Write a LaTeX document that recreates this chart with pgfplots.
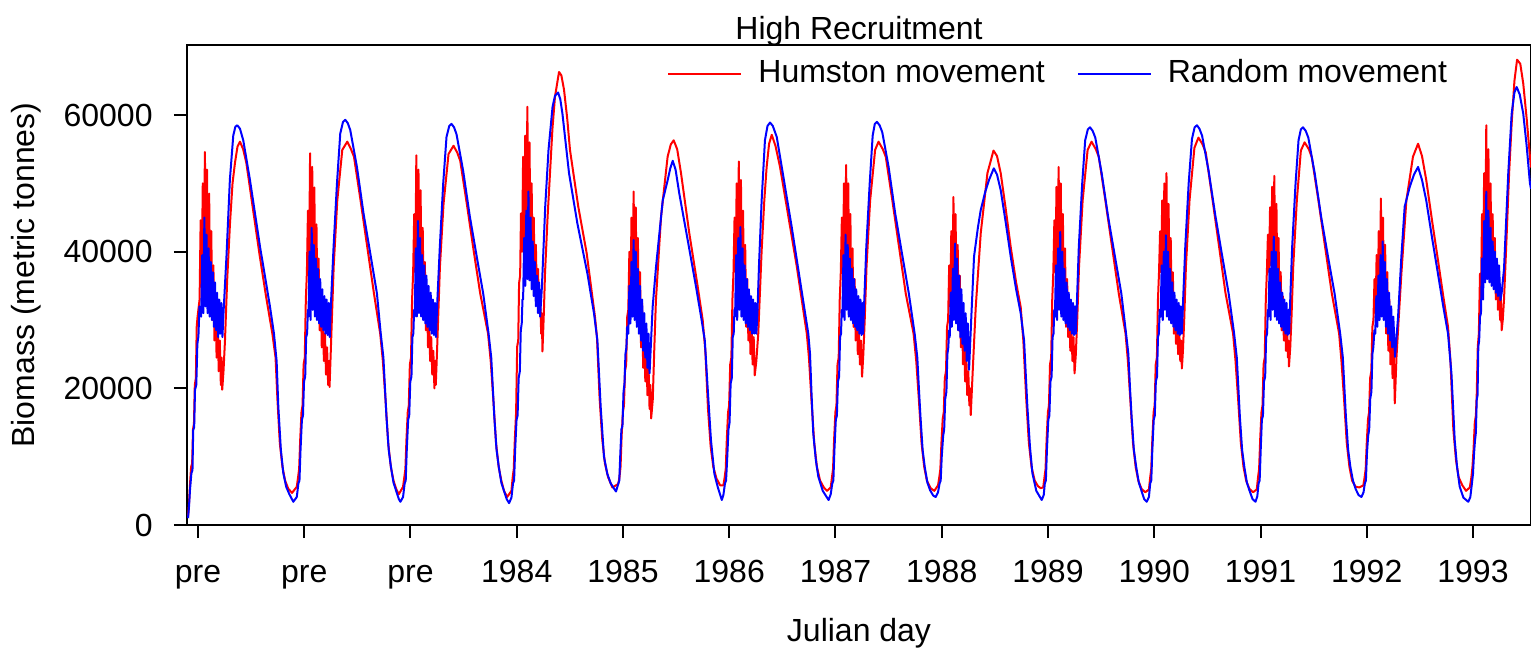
\documentclass[border=0pt]{standalone}
\usepackage{fontspec}
\setmainfont{Liberation Sans}
\usepackage{pgfplots}
\pgfplotsset{compat=1.18}
\newcommand{\fs}{\fontsize{16}{19}\selectfont}
\begin{document}
\fs
\begin{tikzpicture}
\begin{axis}[
 name=ax,
 scale only axis, width=672pt, height=240pt,
 xmin=-0.1035, xmax=12.546, ymin=0, ymax=70250,
 axis line style={line width=1pt},
 every tick/.style={black, line width=1pt},
 tick align=outside, major tick length=6.5pt,
 tick pos=left,
 scaled y ticks=false, scaled x ticks=false,
 xtick={0,1,2,3,4,5,6,7,8,9,10,11,12},
 xticklabels={pre,pre,pre,1984,1985,1986,1987,1988,1989,1990,1991,1992,1993},
 ytick={0,20000,40000,60000},
 yticklabels={0,20000,40000,60000},
 xticklabel style={anchor=base, yshift=-22pt, inner sep=0pt, font=\fs},
 yticklabel style={anchor=east, xshift=-10.5pt, inner sep=0pt, font=\fs},
 legend columns=2,
 legend style={draw=none, fill=none, inner sep=0pt, outer sep=0pt, font=\fs,
   at={(0.9375,0.9400)}, anchor=east,
   nodes={inner sep=0pt},
   /tikz/every odd column/.append style={column sep=8pt},
   /tikz/every even column/.append style={column sep=16pt}},
 legend image code/.code={\draw[#1] (0pt,0pt) -- (36.5pt,0pt);},
]
\addplot[red, line width=1pt, line join=round] table {
x y
-0.094 1200
-0.085 3000
-0.075 6000
-0.065 8500
-0.055 9000
-0.047 14000
-0.038 14800
-0.030 20500
-0.020 21500
-0.012 29000
-0.004 30500
0.015 33000
0.025 44600
0.035 36000
0.045 50000
0.055 37500
0.065 54600
0.075 37000
0.085 52000
0.095 34500
0.105 48500
0.115 32500
0.125 43000
0.135 30000
0.145 38000
0.155 27000
0.165 33500
0.175 24500
0.185 30000
0.195 22500
0.205 27000
0.215 20500
0.222 24500
0.228 19800
0.240 22500
0.254 27000
0.275 36000
0.301 44100
0.325 50000
0.348 53000
0.372 55400
0.395 56100
0.425 55000
0.455 53000
0.515 46500
0.580 39500
0.640 33500
0.700 28000
0.730 24500
0.748 18300
0.770 12000
0.795 8500
0.820 6500
0.850 5300
0.885 4700
0.930 5600
0.942 7000
0.952 8200
0.962 12500
0.974 16500
0.984 17500
0.994 23500
1.005 24500
1.015 33000
1.025 37000
1.035 46000
1.045 37000
1.055 54400
1.065 38000
1.075 52400
1.085 35000
1.095 49400
1.105 33500
1.115 44000
1.125 31000
1.135 39000
1.145 28500
1.155 34500
1.165 26000
1.175 30500
1.185 24000
1.195 28000
1.205 22000
1.215 26000
1.225 20500
1.232 24000
1.238 20200
1.250 25500
1.262 31000
1.277 37800
1.311 47500
1.358 54900
1.405 56100
1.440 55000
1.468 53900
1.530 47500
1.593 40700
1.656 33900
1.715 28000
1.740 24000
1.765 18300
1.790 12000
1.815 8500
1.840 6500
1.865 5300
1.890 4500
1.930 5600
1.942 7000
1.952 8200
1.962 12500
1.974 16500
1.984 17500
1.994 23500
2.005 24500
2.015 33000
2.025 37000
2.035 45500
2.045 37000
2.055 54100
2.065 38000
2.075 52000
2.085 35000
2.095 49000
2.105 33500
2.115 43500
2.125 31000
2.135 38500
2.145 28500
2.155 34000
2.165 26000
2.175 30500
2.185 24000
2.195 27500
2.205 22000
2.215 25500
2.225 20000
2.232 24000
2.238 20500
2.250 25500
2.262 31000
2.277 37800
2.311 47000
2.358 54300
2.405 55500
2.440 54500
2.468 53300
2.530 47000
2.593 40300
2.656 33900
2.730 28000
2.755 24000
2.780 18300
2.805 12000
2.830 8500
2.855 6500
2.880 5000
2.910 4100
2.950 5000
2.962 7000
2.972 8200
2.982 12500
2.994 16500
3.004 26100
3.014 27000
3.022 35400
3.032 36500
3.040 45600
3.050 40000
3.060 53900
3.070 42000
3.080 57000
3.090 43000
3.100 61200
3.110 42000
3.120 56000
3.130 40000
3.140 50000
3.150 37500
3.160 45000
3.170 35000
3.180 41000
3.190 33000
3.200 37500
3.210 31000
3.220 33500
3.230 28000
3.236 31000
3.242 25400
3.255 31000
3.266 36800
3.290 45000
3.313 51500
3.336 58000
3.360 62700
3.398 66300
3.420 65800
3.445 63700
3.475 59500
3.501 54900
3.579 46600
3.658 39800
3.736 30500
3.755 27500
3.780 18500
3.805 12500
3.830 9000
3.860 7000
3.900 5500
3.955 6000
3.967 7000
3.977 8500
3.987 13000
3.999 16500
4.009 17500
4.019 22500
4.030 23500
4.040 30500
4.050 31500
4.060 40000
4.070 33000
4.080 45000
4.090 34000
4.100 48800
4.110 33500
4.120 46500
4.130 31500
4.140 42000
4.150 29000
4.160 37000
4.170 26000
4.180 32500
4.190 23000
4.200 29000
4.210 21000
4.220 26000
4.230 19000
4.240 23500
4.250 17000
4.258 20500
4.265 15600
4.280 18300
4.295 26000
4.310 32900
4.358 45100
4.420 53900
4.450 55700
4.477 56300
4.510 55000
4.546 51500
4.624 42700
4.703 34900
4.750 30000
4.775 25500
4.800 17000
4.825 11500
4.850 8500
4.880 6800
4.915 5800
4.945 5800
4.957 7000
4.967 8200
4.977 12500
4.989 16500
4.999 17500
5.009 23500
5.020 24500
5.030 33000
5.040 37000
5.050 45000
5.060 37000
5.070 50000
5.080 38000
5.090 53200
5.100 36000
5.110 50500
5.120 34000
5.130 46000
5.140 31500
5.150 41000
5.160 29000
5.170 36000
5.180 27000
5.190 32000
5.200 25000
5.210 29500
5.220 23500
5.230 27500
5.240 21900
5.255 24000
5.273 28000
5.290 34500
5.305 40200
5.330 47500
5.352 52400
5.375 55800
5.400 57100
5.435 55500
5.478 52400
5.557 45100
5.636 37800
5.730 28000
5.750 24500
5.775 18000
5.800 12000
5.825 8500
5.855 6500
5.890 5500
5.920 5000
5.955 5500
5.967 7000
5.977 8200
5.987 12500
5.999 16500
6.009 17500
6.019 23500
6.030 24500
6.040 33000
6.050 37000
6.060 45000
6.070 37000
6.080 50000
6.090 38000
6.100 52700
6.110 36000
6.120 50000
6.130 34000
6.140 45500
6.150 31500
6.160 40500
6.170 29000
6.180 36000
6.190 27000
6.200 32000
6.210 25000
6.220 29000
6.230 23500
6.240 27000
6.250 21700
6.262 25000
6.275 30000
6.292 37800
6.326 47500
6.373 54900
6.405 56100
6.445 55000
6.473 53900
6.535 47500
6.598 40700
6.661 33900
6.735 28000
6.760 24000
6.785 18300
6.810 12000
6.835 8500
6.860 6500
6.895 5400
6.930 5000
6.965 5800
6.977 7000
6.987 8200
6.997 12000
7.009 15500
7.019 16500
7.029 21500
7.040 22500
7.050 29000
7.060 30000
7.070 38000
7.080 32000
7.090 43000
7.100 33500
7.110 48000
7.120 33000
7.130 45500
7.140 31000
7.150 41000
7.160 28500
7.170 36500
7.180 26000
7.190 32000
7.200 23500
7.210 28500
7.220 21000
7.230 25500
7.240 19000
7.250 22500
7.260 17500
7.266 20000
7.273 16100
7.290 22000
7.305 27000
7.320 31900
7.367 42700
7.430 51500
7.487 54800
7.520 54000
7.555 51500
7.600 46500
7.649 40700
7.700 35500
7.743 31900
7.768 27000
7.795 18500
7.820 12000
7.845 8500
7.875 6500
7.905 5700
7.930 5400
7.955 5500
7.967 7000
7.977 8200
7.987 12500
7.999 16500
8.009 17500
8.019 23500
8.030 24500
8.040 33000
8.050 37000
8.060 44600
8.070 37000
8.080 49500
8.090 38000
8.100 52400
8.110 36000
8.120 50000
8.130 34000
8.140 45500
8.150 31500
8.160 40500
8.170 29000
8.180 36000
8.190 27500
8.200 32500
8.210 25500
8.220 29500
8.230 24000
8.240 27500
8.250 22200
8.262 25000
8.275 30000
8.292 37800
8.326 47500
8.373 54900
8.410 56100
8.450 55000
8.478 53900
8.540 47500
8.603 40700
8.666 33900
8.730 28000
8.752 24000
8.775 18300
8.800 12000
8.825 8500
8.850 6500
8.880 5300
8.915 4800
8.950 5200
8.962 7000
8.972 8200
8.982 12500
8.994 16500
9.004 17500
9.014 23500
9.025 24500
9.035 33000
9.045 37000
9.055 43000
9.065 37000
9.075 47500
9.085 38000
9.095 50000
9.105 37000
9.115 51500
9.125 35000
9.135 47000
9.145 32500
9.155 42000
9.165 30000
9.175 37000
9.185 28000
9.195 33000
9.205 26500
9.215 30500
9.225 25000
9.235 28500
9.245 24000
9.252 27000
9.260 22900
9.270 25500
9.282 30000
9.298 37800
9.332 47500
9.378 55200
9.416 56700
9.455 55700
9.485 54500
9.545 48000
9.608 41000
9.670 34000
9.742 28000
9.765 24000
9.790 18300
9.815 12000
9.840 8500
9.865 6500
9.895 5300
9.930 4800
9.965 5200
9.977 7000
9.987 8200
9.997 12500
10.009 16500
10.019 17500
10.029 23500
10.040 24500
10.050 33000
10.060 37000
10.070 42500
10.080 37000
10.090 46500
10.100 38000
10.110 49500
10.120 37000
10.130 51100
10.140 35000
10.150 47000
10.160 32500
10.170 42000
10.180 30500
10.190 37000
10.200 28500
10.210 33500
10.220 27000
10.230 31000
10.240 25500
10.250 29000
10.258 24500
10.262 27000
10.268 23200
10.280 26000
10.292 30500
10.308 37800
10.342 47500
10.380 54800
10.415 56000
10.455 55000
10.483 53800
10.545 47500
10.608 40700
10.671 33900
10.740 28000
10.762 24000
10.787 18300
10.812 12000
10.837 8500
10.862 6500
10.895 5600
10.930 5500
10.968 5800
10.980 7000
10.990 8200
11.000 12000
11.012 15500
11.022 16500
11.032 21500
11.043 22500
11.053 29000
11.063 30000
11.073 36000
11.083 31000
11.093 39500
11.103 32500
11.113 43000
11.123 33500
11.133 47800
11.143 33000
11.153 45000
11.163 30500
11.173 41000
11.183 28000
11.193 37000
11.203 25500
11.213 33000
11.223 23500
11.233 29500
11.243 21500
11.253 26000
11.264 17800
11.280 24600
11.300 30000
11.326 36800
11.373 47500
11.435 53900
11.483 55800
11.520 54000
11.560 50500
11.615 44500
11.670 38800
11.720 33500
11.765 29000
11.788 24000
11.815 14000
11.840 9500
11.865 7000
11.900 5800
11.935 5000
11.970 5500
11.985 7000
11.995 8500
12.005 11000
12.017 15000
12.027 16000
12.035 19000
12.045 26100
12.055 28000
12.066 36800
12.075 33000
12.085 45500
12.095 37500
12.105 51500
12.115 40000
12.125 58500
12.135 40500
12.145 55000
12.155 39000
12.165 50000
12.175 37000
12.185 45500
12.195 35000
12.205 42000
12.215 33000
12.225 38500
12.235 31500
12.245 36000
12.255 30000
12.262 33500
12.270 28500
12.280 30000
12.292 33000
12.315 41700
12.340 51500
12.364 58800
12.390 65000
12.415 68100
12.445 67500
12.473 64600
12.505 59500
12.536 53900
12.546 52300
};
\addlegendentry{Humston movement}
\addplot[blue, line width=1pt, line join=round] table {
x y
-0.094 1000
-0.085 2600
-0.075 5200
-0.062 7600
-0.052 8000
-0.045 13900
-0.036 14300
-0.028 19800
-0.016 20500
-0.006 26500
0.004 27600
0.014 32000
0.022 31000
0.030 30500
0.040 39500
0.050 31000
0.060 45000
0.070 32000
0.080 42500
0.090 31000
0.100 40500
0.110 30500
0.120 38500
0.130 30000
0.140 37000
0.150 29000
0.160 35500
0.170 28500
0.180 34000
0.190 27500
0.200 33000
0.210 28000
0.220 32500
0.230 27500
0.240 31000
0.268 39300
0.300 50500
0.332 57000
0.352 58300
0.370 58500
0.395 58000
0.426 56300
0.489 50500
0.584 40700
0.640 35500
0.678 31900
0.715 28000
0.740 24000
0.756 17300
0.780 11000
0.803 7600
0.830 5600
0.860 4500
0.897 3400
0.930 4100
0.945 6100
0.955 6500
0.965 11000
0.978 15400
0.988 16000
0.998 21000
1.009 21700
1.018 27500
1.027 28000
1.034 31500
1.040 30500
1.050 40000
1.060 30000
1.070 43500
1.080 31500
1.090 41000
1.100 30500
1.110 39000
1.120 30000
1.130 37500
1.140 29500
1.150 36000
1.160 29000
1.170 34500
1.180 28500
1.190 33500
1.200 28000
1.210 33000
1.220 27800
1.230 32500
1.240 27500
1.250 31900
1.276 40700
1.308 50000
1.339 57300
1.365 59000
1.386 59300
1.410 58800
1.433 57800
1.496 52400
1.558 45600
1.621 39800
1.684 33900
1.720 28000
1.745 24500
1.760 20000
1.774 15800
1.795 11000
1.816 8500
1.840 6200
1.863 5100
1.890 3800
1.905 3400
1.930 4100
1.945 6100
1.955 6500
1.965 11000
1.978 15400
1.988 16000
1.998 21000
2.009 21700
2.018 27500
2.027 28000
2.034 31500
2.040 30500
2.050 40500
2.060 30500
2.070 44500
2.080 31000
2.090 42000
2.100 30500
2.110 39500
2.120 30000
2.130 38000
2.140 29500
2.150 36500
2.160 29000
2.170 35000
2.180 28500
2.190 34000
2.200 28000
2.210 33000
2.220 27800
2.230 32500
2.240 27500
2.250 31900
2.276 40700
2.308 50000
2.339 56800
2.365 58400
2.386 58700
2.410 58200
2.433 57200
2.496 51800
2.558 45200
2.621 39500
2.684 33900
2.735 28000
2.760 24500
2.775 20000
2.789 15800
2.810 11000
2.831 8500
2.855 6200
2.878 5100
2.905 3800
2.928 3200
2.950 4000
2.965 6100
2.975 6500
2.985 11000
2.998 15400
3.008 16000
3.018 21500
3.029 22500
3.038 28500
3.047 29500
3.054 33000
3.060 33000
3.070 42000
3.080 35000
3.090 46000
3.100 36000
3.110 48800
3.120 35800
3.130 45000
3.140 34500
3.150 41500
3.160 33500
3.170 38500
3.180 32000
3.190 36500
3.200 31000
3.210 35500
3.220 30500
3.237 34900
3.268 46600
3.299 54900
3.337 61200
3.360 62800
3.389 63300
3.410 62300
3.430 60200
3.492 51500
3.571 44100
3.665 36800
3.727 31000
3.759 27000
3.790 17300
3.821 10000
3.852 7500
3.884 6100
3.934 4900
3.955 6000
3.965 6500
3.975 10500
3.985 14000
3.995 14500
4.005 19500
4.014 20700
4.023 25000
4.032 26000
4.040 29000
4.050 28000
4.060 35000
4.070 29500
4.080 38500
4.090 30500
4.100 41700
4.110 30000
4.120 40000
4.130 29000
4.140 37500
4.150 28000
4.160 35000
4.170 27000
4.180 33000
4.190 25500
4.200 31000
4.210 24500
4.220 29500
4.230 23000
4.240 28000
4.250 22200
4.279 31900
4.311 37800
4.374 47500
4.421 50500
4.445 52200
4.468 53300
4.495 52000
4.530 48500
4.609 41700
4.687 34900
4.740 30000
4.770 27000
4.797 20000
4.828 12400
4.860 7500
4.891 5600
4.930 3660
4.945 4400
4.960 6100
4.970 6500
4.980 9500
4.993 14000
5.003 15000
5.013 20700
5.024 21500
5.033 27500
5.042 28000
5.049 31500
5.055 30500
5.065 39500
5.075 30000
5.085 42000
5.095 31500
5.105 43600
5.115 30500
5.125 40500
5.135 30000
5.145 38000
5.155 29500
5.165 36000
5.175 29000
5.185 34500
5.195 28500
5.205 33500
5.215 28000
5.225 33000
5.235 28000
5.245 32500
5.255 28000
5.265 31000
5.280 38000
5.305 47500
5.336 56300
5.360 58400
5.384 58900
5.410 58400
5.447 56800
5.509 51000
5.588 43600
5.666 35800
5.744 28000
5.760 25100
5.775 19000
5.791 13400
5.815 9500
5.838 7100
5.880 5000
5.935 3660
5.955 4500
5.970 6100
5.980 6500
5.990 11000
6.003 15400
6.013 16000
6.023 21000
6.034 21700
6.043 27500
6.052 28000
6.059 31500
6.065 30500
6.075 39500
6.085 30000
6.095 42500
6.105 31500
6.115 41000
6.125 30500
6.135 39000
6.145 30000
6.155 37500
6.165 29500
6.175 36000
6.185 29000
6.195 34500
6.205 28500
6.215 33500
6.225 28000
6.235 33000
6.245 27800
6.255 32500
6.260 28000
6.270 32500
6.290 40700
6.322 50000
6.350 57000
6.370 58700
6.390 59000
6.415 58500
6.440 57500
6.500 52400
6.562 45600
6.625 39800
6.690 33900
6.745 28000
6.770 24500
6.785 20000
6.800 15800
6.820 11000
6.840 8500
6.865 6200
6.890 5100
6.920 4300
6.943 4100
6.965 4800
6.980 6100
6.990 6500
7.000 10000
7.013 13000
7.023 14000
7.033 18500
7.044 19500
7.053 25000
7.062 26000
7.069 28500
7.075 27500
7.085 34000
7.095 29000
7.105 37500
7.115 30000
7.125 41200
7.135 29500
7.145 39000
7.155 28500
7.165 36500
7.175 27500
7.185 34500
7.195 26500
7.205 32500
7.215 25500
7.225 31000
7.235 24000
7.245 29500
7.257 22700
7.280 31000
7.304 39300
7.340 43500
7.367 46100
7.410 48800
7.445 50500
7.490 52200
7.520 51300
7.555 49000
7.600 44500
7.649 39300
7.700 34500
7.743 31000
7.775 27000
7.806 17300
7.830 11500
7.853 7600
7.890 5000
7.941 3660
7.960 4400
7.970 6100
7.980 6500
7.990 11000
8.003 15400
8.013 16000
8.023 21000
8.034 21700
8.043 27500
8.052 28000
8.059 31500
8.065 30500
8.075 38000
8.085 30000
8.095 40500
8.105 31500
8.115 42900
8.125 30500
8.135 40000
8.145 30000
8.155 37500
8.165 29500
8.175 35500
8.185 29000
8.195 34000
8.205 28500
8.215 33000
8.225 28000
8.235 32500
8.245 27800
8.255 32000
8.262 28000
8.272 32500
8.290 40700
8.322 50000
8.350 56300
8.375 57900
8.395 58200
8.420 57700
8.445 56700
8.505 51500
8.567 45000
8.630 39300
8.690 33900
8.735 28000
8.756 25100
8.772 20000
8.787 15800
8.808 11000
8.830 8500
8.855 6200
8.880 5000
8.905 3800
8.929 3400
8.950 4100
8.962 6100
8.972 6500
8.982 11000
8.995 15400
9.005 16000
9.015 21000
9.026 21700
9.035 27500
9.044 28000
9.051 31500
9.060 30500
9.070 38000
9.080 30000
9.090 40000
9.100 31500
9.110 42400
9.120 30500
9.130 40000
9.140 30000
9.150 37500
9.160 29500
9.170 35500
9.180 29000
9.190 34000
9.200 28500
9.210 33000
9.220 28000
9.230 32500
9.240 27800
9.250 32000
9.260 28000
9.272 33000
9.292 40700
9.324 50000
9.355 56500
9.380 58200
9.402 58500
9.425 58000
9.450 57000
9.512 51800
9.575 45300
9.637 39600
9.700 33900
9.752 28000
9.777 24500
9.792 20000
9.806 15800
9.827 11000
9.848 8500
9.872 6200
9.895 5100
9.925 3800
9.953 3400
9.970 4200
9.982 6100
9.992 6500
10.002 11000
10.013 15400
10.023 16000
10.033 21000
10.044 21700
10.053 27500
10.062 28000
10.069 31500
10.075 30500
10.085 37500
10.095 30000
10.105 40000
10.115 31500
10.125 42200
10.135 30500
10.145 40000
10.155 30000
10.165 37500
10.175 29500
10.185 35500
10.195 29000
10.205 34000
10.215 28500
10.225 33000
10.235 28000
10.245 32500
10.255 27800
10.265 31500
10.270 28000
10.280 33000
10.298 40700
10.330 50000
10.358 56300
10.380 57900
10.400 58200
10.425 57700
10.450 56700
10.510 51500
10.572 45000
10.635 39300
10.697 33900
10.750 28000
10.775 24500
10.790 20000
10.804 15800
10.825 11000
10.846 8500
10.870 6500
10.895 5300
10.922 4400
10.950 4100
10.970 4800
10.982 6100
10.992 6500
11.002 10500
11.013 13000
11.023 14000
11.033 18500
11.044 19500
11.053 25000
11.062 26000
11.072 28500
11.080 28000
11.090 33500
11.100 29000
11.110 36500
11.120 30000
11.130 39500
11.140 30500
11.150 41500
11.160 30000
11.170 38500
11.180 29000
11.190 36000
11.200 28000
11.210 34000
11.220 27000
11.230 32000
11.240 26000
11.250 30500
11.266 24600
11.295 30500
11.326 39300
11.357 46600
11.405 49500
11.445 51300
11.483 52400
11.520 50500
11.560 47500
11.615 42000
11.670 36800
11.720 32000
11.765 28000
11.797 22200
11.828 12400
11.850 8500
11.875 5600
11.910 4000
11.956 3400
11.975 4100
11.990 6100
12.000 7500
12.010 10500
12.019 12400
12.027 13500
12.035 18300
12.043 19000
12.050 26100
12.058 27000
12.066 30500
12.075 31000
12.085 39000
12.095 33000
12.105 44500
12.115 35500
12.125 48800
12.135 36000
12.145 46000
12.155 35500
12.165 43500
12.175 35000
12.185 41500
12.195 34500
12.205 40000
12.215 34000
12.225 39000
12.235 33500
12.245 38000
12.258 32900
12.270 34000
12.292 37500
12.312 44500
12.332 51500
12.364 60200
12.390 63300
12.411 64100
12.440 63000
12.473 60200
12.505 55500
12.536 50000
12.546 49200
};
\addlegendentry{Random movement}
\end{axis}
\node[anchor=base, font=\fs] at ([yshift=2.5pt]ax.north) {High Recruitment};
\node[anchor=base, font=\fs] at ([yshift=-58pt]ax.south) {Julian day};
\node[anchor=base, rotate=90, font=\fs] at ([xshift=-76pt, yshift=5pt]ax.west) {Biomass (metric tonnes)};
\pgfresetboundingbox
\path[use as bounding box] ([shift={(-93.5pt,-65pt)}]ax.south west) rectangle ([yshift=22.5pt]ax.north east);
\end{tikzpicture}
\end{document}
